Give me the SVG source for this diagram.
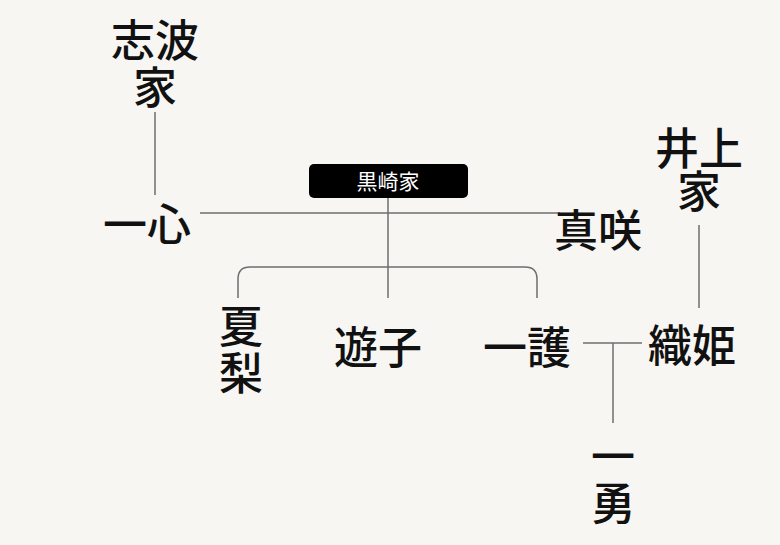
<svg xmlns="http://www.w3.org/2000/svg" width="780" height="545" viewBox="0 0 780 545">
<style>
.t{font-family:"Noto Sans CJK JP","Noto Sans CJK SC",sans-serif;font-size:44px;font-weight:500;fill:#111;text-anchor:middle}
.c{fill:none;stroke:#6e6e6e;stroke-width:1.5}
</style>
<rect width="780" height="545" fill="#f7f6f3"/>
<g id="connectors">
<path class="c" d="M155 112V195"/>
<path class="c" d="M200 213H560"/>
<path class="c" d="M388 198V298"/>
<path class="c" d="M238 298V279Q238 267 250 267H525Q537 267 537 279V298"/>
<path class="c" d="M699 225V308"/>
<path class="c" d="M583 343H642"/>
<path class="c" d="M613 343V423"/>
</g>
<g id="shiba"><text class="t" x="155" y="57">志波</text><text class="t" x="155" y="104">家</text></g>
<g id="isshin"><text class="t" x="147" y="241">一心</text></g>
<g id="kurosaki"><rect x="309" y="164" width="159" height="34" rx="5" fill="#000"/><text x="388" y="189" font-family="Noto Sans CJK JP,sans-serif" font-size="21" fill="#fff" text-anchor="middle">黒崎家</text></g>
<g id="masaki"><text class="t" x="598" y="247">真咲</text></g>
<g id="inoue"><text class="t" x="699" y="165">井上</text><text class="t" x="699" y="208">家</text></g>
<g id="karin"><text class="t" x="241" y="343">夏</text><text class="t" x="241" y="390">梨</text></g>
<g id="yuzu"><text class="t" x="378" y="364">遊子</text></g>
<g id="ichigo"><text class="t" x="527" y="364">一護</text></g>
<g id="orihime"><text class="t" x="692" y="362">織姫</text></g>
<g id="kazui"><text class="t" x="613" y="473">一</text><text class="t" x="613" y="520">勇</text></g>
</svg>
